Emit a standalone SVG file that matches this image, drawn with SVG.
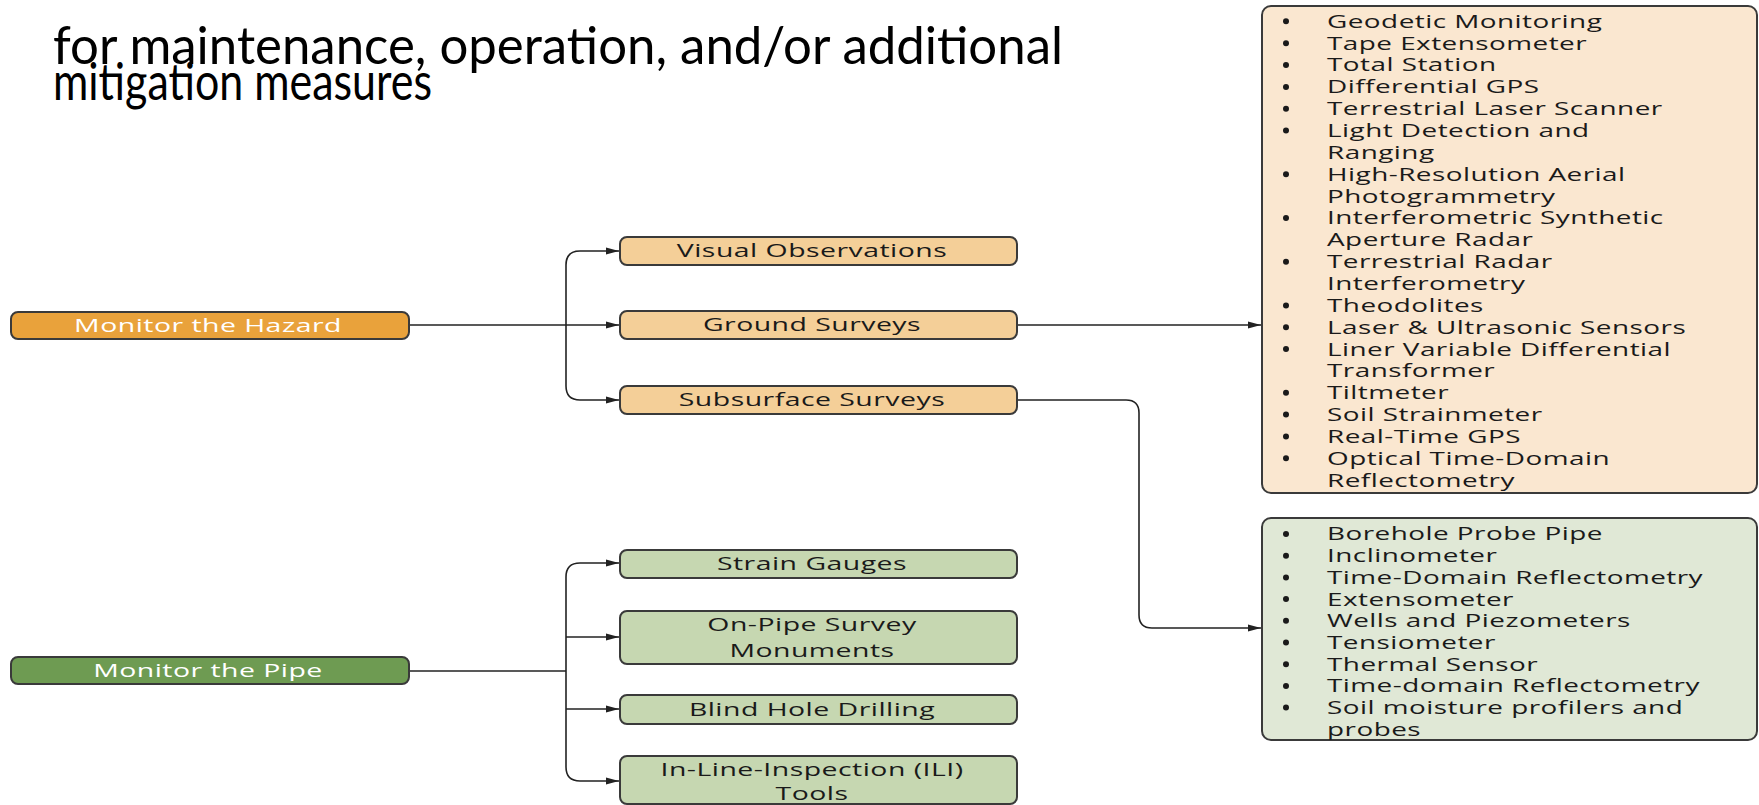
<svg xmlns="http://www.w3.org/2000/svg" width="1759" height="805" viewBox="0 0 1759 805">
<defs>
<style>
.bx{stroke:#3a3a3a;stroke-width:2}
.hz{fill:#E9A23B}.os{fill:#F4CF98}.ol{fill:#FAE7D0}
.pp{fill:#6E9B52}.gs{fill:#C6D7B1}.gl{fill:#E0E8D6}
.t{font-family:"Open Sans","Noto Sans",sans-serif;font-size:18px;fill:#1a1a1a;letter-spacing:0.3px}
.c{text-anchor:middle}
.w{fill:#ffffff}
.ttl{font-family:Lato,"Liberation Sans",sans-serif;font-size:52px;fill:#000}
.cn{fill:none;stroke:#222;stroke-width:1.6}
.bu{fill:#1a1a1a}
</style>
<marker id="ah" viewBox="0 0 13 8" refX="13" refY="4" markerWidth="13" markerHeight="8" markerUnits="userSpaceOnUse" orient="auto">
<path d="M0,0.5 L13,4 L0,7.5 z" fill="#222"/>
</marker>
</defs>
<rect width="1759" height="805" fill="#fff"/>

<g id="title">
<text class="ttl" x="53" y="64" textLength="1010" lengthAdjust="spacingAndGlyphs">for maintenance, operation, and/or additional</text>
<text class="ttl" x="53" y="100" textLength="379" lengthAdjust="spacingAndGlyphs">mitigation measures</text>
</g>

<g id="connectors">
<path class="cn" d="M409,325 H619" marker-end="url(#ah)"/>
<path class="cn" d="M566,325 V265 Q566,251 580,251 H619" marker-end="url(#ah)"/>
<path class="cn" d="M566,325 V386 Q566,400 580,400 H619" marker-end="url(#ah)"/>
<path class="cn" d="M1017,325 H1261" marker-end="url(#ah)"/>
<path class="cn" d="M1017,400 H1126 Q1139,400 1139,413 V615 Q1139,628 1152,628 H1261" marker-end="url(#ah)"/>
<path class="cn" d="M409,671 H566"/>
<path class="cn" d="M566,671 V577 Q566,563 580,563 H619" marker-end="url(#ah)"/>
<path class="cn" d="M566,637 H619" marker-end="url(#ah)"/>
<path class="cn" d="M566,709 H619" marker-end="url(#ah)"/>
<path class="cn" d="M566,671 V767 Q566,781 580,781 H619" marker-end="url(#ah)"/>
</g>

<g id="monitor-hazard">
<rect class="bx hz" x="11" y="312" width="398" height="27" rx="7"/>
<g transform="translate(208,0) scale(1.58,1)"><text class="t c w" x="0" y="332">Monitor the Hazard</text></g>
</g>

<g id="visual-observations">
<rect class="bx os" x="620" y="237" width="397" height="28" rx="7"/>
<g transform="translate(812,0) scale(1.58,1)"><text class="t c" x="0" y="257.5">Visual Observations</text></g>
</g>

<g id="ground-surveys">
<rect class="bx os" x="620" y="311" width="397" height="28" rx="7"/>
<g transform="translate(812,0) scale(1.58,1)"><text class="t c" x="0" y="331.5">Ground Surveys</text></g>
</g>

<g id="subsurface-surveys">
<rect class="bx os" x="620" y="386" width="397" height="28" rx="7"/>
<g transform="translate(812,0) scale(1.58,1)"><text class="t c" x="0" y="406.5">Subsurface Surveys</text></g>
</g>

<g id="hazard-methods">
<rect class="bx ol" x="1262" y="6" width="495" height="487" rx="9"/>
<g class="bu">
<circle cx="1286" cy="21.3" r="3"/><circle cx="1286" cy="43.2" r="3"/><circle cx="1286" cy="65" r="3"/><circle cx="1286" cy="86.9" r="3"/><circle cx="1286" cy="108.7" r="3"/><circle cx="1286" cy="130.6" r="3"/><circle cx="1286" cy="174.3" r="3"/><circle cx="1286" cy="218" r="3"/><circle cx="1286" cy="261.7" r="3"/><circle cx="1286" cy="305.4" r="3"/><circle cx="1286" cy="327.2" r="3"/><circle cx="1286" cy="349.1" r="3"/><circle cx="1286" cy="392.8" r="3"/><circle cx="1286" cy="414.6" r="3"/><circle cx="1286" cy="436.5" r="3"/><circle cx="1286" cy="458.3" r="3"/>
</g>
<g transform="translate(1327,0) scale(1.55,1)">
<text class="t" x="0" y="27.8">Geodetic Monitoring</text>
<text class="t" x="0" y="49.7">Tape Extensometer</text>
<text class="t" x="0" y="71.5">Total Station</text>
<text class="t" x="0" y="93.4">Differential GPS</text>
<text class="t" x="0" y="115.2">Terrestrial Laser Scanner</text>
<text class="t" x="0" y="137.1">Light Detection and</text>
<text class="t" x="0" y="158.9">Ranging</text>
<text class="t" x="0" y="180.8">High-Resolution Aerial</text>
<text class="t" x="0" y="202.6">Photogrammetry</text>
<text class="t" x="0" y="224.5">Interferometric Synthetic</text>
<text class="t" x="0" y="246.3">Aperture Radar</text>
<text class="t" x="0" y="268.2">Terrestrial Radar</text>
<text class="t" x="0" y="290">Interferometry</text>
<text class="t" x="0" y="311.9">Theodolites</text>
<text class="t" x="0" y="333.7">Laser &amp; Ultrasonic Sensors</text>
<text class="t" x="0" y="355.6">Liner Variable Differential</text>
<text class="t" x="0" y="377.4">Transformer</text>
<text class="t" x="0" y="399.3">Tiltmeter</text>
<text class="t" x="0" y="421.1">Soil Strainmeter</text>
<text class="t" x="0" y="443">Real-Time GPS</text>
<text class="t" x="0" y="464.8">Optical Time-Domain</text>
<text class="t" x="0" y="486.7">Reflectometry</text>
</g>
</g>

<g id="subsurface-methods">
<rect class="bx gl" x="1262" y="518" width="495" height="222" rx="9"/>
<g class="bu">
<circle cx="1286" cy="534" r="3"/><circle cx="1286" cy="555.7" r="3"/><circle cx="1286" cy="577.4" r="3"/><circle cx="1286" cy="599.1" r="3"/><circle cx="1286" cy="620.8" r="3"/><circle cx="1286" cy="642.5" r="3"/><circle cx="1286" cy="664.2" r="3"/><circle cx="1286" cy="685.9" r="3"/><circle cx="1286" cy="707.6" r="3"/>
</g>
<g transform="translate(1327,0) scale(1.55,1)">
<text class="t" x="0" y="540.5">Borehole Probe Pipe</text>
<text class="t" x="0" y="562.2">Inclinometer</text>
<text class="t" x="0" y="583.9">Time-Domain Reflectometry</text>
<text class="t" x="0" y="605.6">Extensometer</text>
<text class="t" x="0" y="627.3">Wells and Piezometers</text>
<text class="t" x="0" y="649">Tensiometer</text>
<text class="t" x="0" y="670.7">Thermal Sensor</text>
<text class="t" x="0" y="692.4">Time-domain Reflectometry</text>
<text class="t" x="0" y="714.1">Soil moisture profilers and</text>
<text class="t" x="0" y="735.8">probes</text>
</g>
</g>

<g id="monitor-pipe">
<rect class="bx pp" x="11" y="657" width="398" height="27" rx="7"/>
<g transform="translate(208,0) scale(1.58,1)"><text class="t c w" x="0" y="677">Monitor the Pipe</text></g>
</g>

<g id="strain-gauges">
<rect class="bx gs" x="620" y="550" width="397" height="28" rx="7"/>
<g transform="translate(812,0) scale(1.58,1)"><text class="t c" x="0" y="570.5">Strain Gauges</text></g>
</g>

<g id="on-pipe-survey">
<rect class="bx gs" x="620" y="611" width="397" height="53" rx="7"/>
<g transform="translate(812,0) scale(1.58,1)"><text class="t c" x="0" y="631">On-Pipe Survey</text><text class="t c" x="0" y="657">Monuments</text></g>
</g>

<g id="blind-hole-drilling">
<rect class="bx gs" x="620" y="695" width="397" height="29" rx="7"/>
<g transform="translate(812,0) scale(1.58,1)"><text class="t c" x="0" y="716">Blind Hole Drilling</text></g>
</g>

<g id="ili-tools">
<rect class="bx gs" x="620" y="756" width="397" height="48" rx="7"/>
<g transform="translate(812,0) scale(1.58,1)"><text class="t c" x="0" y="776.5">In-Line-Inspection (ILI)</text><text class="t c" x="0" y="800">Tools</text></g>
</g>
</svg>
